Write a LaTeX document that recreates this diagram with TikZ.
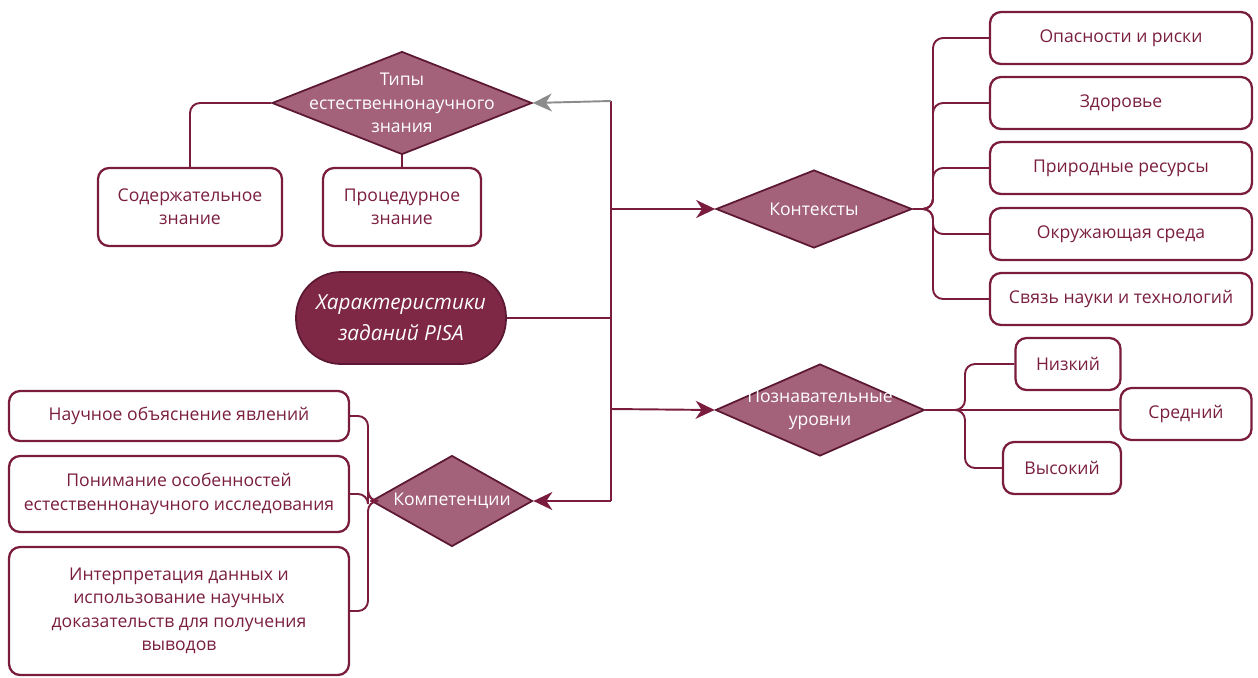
\documentclass[tikz,border=0pt]{standalone}
\usepackage{fontspec}
\setmainfont{Open Sans}
\usetikzlibrary{shapes.geometric,arrows.meta}

\definecolor{pisaline}{RGB}{122,28,62}
\definecolor{pisatext}{RGB}{122,30,64}
\definecolor{pisadark}{RGB}{92,24,50}
\definecolor{pisadia}{RGB}{163,98,121}
\definecolor{pisamain}{RGB}{126,40,70}
\definecolor{pisagray}{RGB}{140,140,140}

\tikzset{
  box/.style={draw=pisaline, line width=1.3pt, rounded corners=0.22cm, text=pisatext,
    align=center, inner sep=2pt, font=\fontsize{10}{13.3}\selectfont},
  dia/.style={diamond, draw=pisadark, line width=1pt, fill=pisadia, inner sep=0pt},
  dtext/.style={text=white, align=center, font=\fontsize{10}{13.3}\selectfont},
  link/.style={draw=pisaline, line width=1.1pt, rounded corners=0.2cm},
  arr/.style={link, -{Stealth[length=3.8mm,width=3.6mm,inset=1.2mm]}},
}

\begin{document}
\begin{tikzpicture}[x=0.02cm, y=-0.02cm]
  \useasboundingbox (0,0) rectangle (1258,677);

  % main node
  \node[draw=pisadark, line width=1pt, fill=pisamain, rounded corners=0.9cm,
        minimum width=4.2cm, minimum height=1.84cm, text=white, align=center,
        font=\fontsize{11.8}{17.5}\selectfont\itshape] (har) at (401,318)
        {Характеристики\\заданий PISA};

  % trunk
  \coordinate (b0) at (611,101);
  \coordinate (b1) at (611,209);
  \coordinate (b2) at (611,409);
  \coordinate (b3) at (611,501);
  \coordinate (bm) at (611,318);
  \draw[link] (b0) -- (b3);
  \draw[link] (har.east) -- (bm);

  % types of knowledge
  \node[dia, minimum width=5.2cm, minimum height=2.06cm] (tipy) at (402,103) {};
  \node[dtext] at (tipy) {Типы\\естественнонаучного\\знания};
  \node[box, minimum width=3.68cm, minimum height=1.56cm] (sod) at (190,207) {Содержательное\\знание};
  \node[box, minimum width=3.16cm, minimum height=1.56cm] (proc) at (402,207) {Процедурное\\знание};
  \draw[link] (tipy.west) -| (sod.north);
  \draw[link] (tipy.south) -- (proc.north);
  \draw[draw=pisagray, line width=1.1pt, -{Stealth[length=3.8mm,width=3.6mm,inset=1.2mm]}] (b0) -- (tipy.east);

  % contexts
  \node[dia, minimum width=3.92cm, minimum height=1.56cm] (kont) at (814,209) {};
  \node[dtext] at (kont) {Контексты};
  \draw[arr] (b1) -- (kont.west);
  \coordinate (kb) at (933,209);
  \foreach \name/\y/\txt in {op/38/Опасности и риски, zd/103/Здоровье,
      pr/168/Природные ресурсы, ok/234/Окружающая среда, sv/299/Связь науки и технологий}{
    \node[box, minimum width=5.24cm, minimum height=1.04cm] (\name) at (1121,\y) {\txt};
    \draw[link] (kont.east) -- (kb) |- (\name.west);
  }

  % cognitive levels
  \node[dia, minimum width=4.18cm, minimum height=1.84cm] (urov) at (820,410) {};
  \node[dtext] at (urov) {Познавательные\\уровни};
  \draw[arr] (b2) -- (urov.west);
  \coordinate (ub) at (965,410);
  \node[box, minimum width=2.1cm, minimum height=1.04cm] (nizk) at (1068,364) {Низкий};
  \node[box, minimum width=2.62cm, minimum height=1.04cm] (sred) at (1186,414) {Средний};
  \node[box, minimum width=2.36cm, minimum height=1.04cm] (vys) at (1062,468) {Высокий};
  \draw[link] (urov.east) -- (ub) |- (nizk.west);
  \draw[link] (urov.east) -- (ub) |- (vys.west);
  \draw[link] (urov.east) -- (urov.east -| sred.west);

  % competences
  \node[dia, minimum width=3.22cm, minimum height=1.82cm] (komp) at (452,501) {};
  \node[dtext] at (komp) {Компетенции};
  \draw[arr] (b3) -- (komp.east);
  \coordinate (cb) at (368,501);
  \node[box, minimum width=6.8cm, minimum height=1.0cm] (nauch) at (179,416) {Научное объяснение явлений};
  \node[box, minimum width=6.8cm, minimum height=1.52cm] (ponim) at (179,494)
    {Понимание особенностей\\естественнонаучного исследования};
  \node[box, minimum width=6.8cm, minimum height=2.56cm] (interp) at (179,611)
    {Интерпретация данных и\\использование научных\\доказательств для получения\\выводов};
  \foreach \name in {nauch,ponim,interp}
    \draw[link] (komp.west) -- (cb) |- (\name.east);
\end{tikzpicture}
\end{document}
